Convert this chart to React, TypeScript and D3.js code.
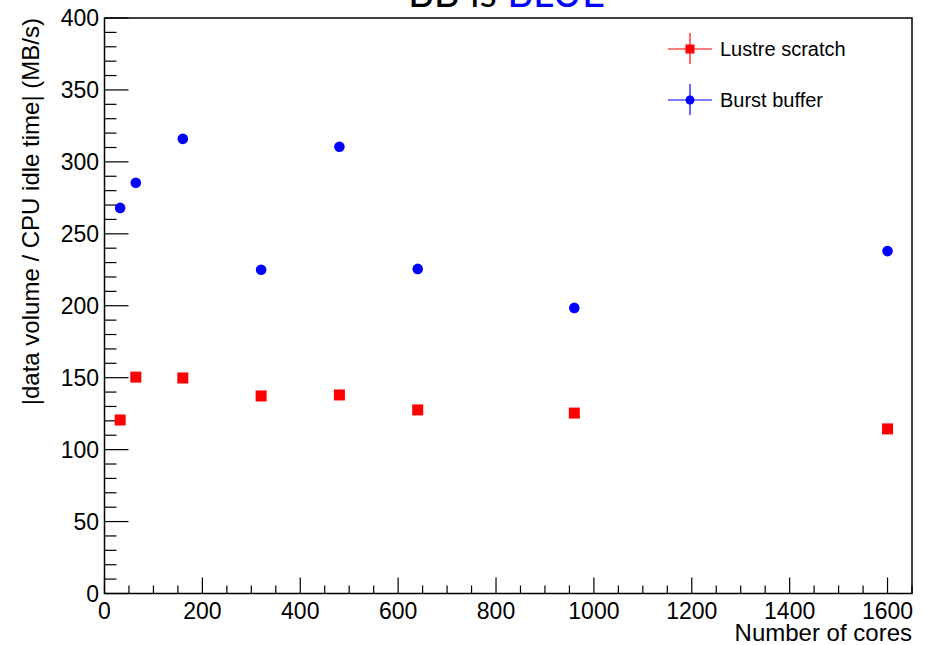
import React from "react";
import * as d3 from "d3";

const cores = [32, 64, 160, 320, 480, 640, 960, 1600];
const lustreScratch = [120.6, 150.4, 149.8, 137.3, 138.0, 127.6, 125.4, 114.4];
const burstBuffer = [268.0, 285.5, 316.0, 225.0, 310.5, 225.6, 198.5, 238.0];
const xMajorTicks = [0, 200, 400, 600, 800, 1000, 1200, 1400, 1600];
const yMajorTicks = [0, 50, 100, 150, 200, 250, 300, 350, 400];
const seriesNames = ["Lustre scratch", "Burst buffer"];

const W = 926;
const H = 645;
const LEFT = 104.5;
const RIGHT = 912;
const TOP = 18;
const BOTTOM = 593.5;
const FONT = "'Liberation Sans', Arial, Helvetica, sans-serif";

export default function App() {
  const x = d3.scaleLinear().domain([0, 1650]).range([LEFT, RIGHT]);
  const y = d3.scaleLinear().domain([0, 400]).range([BOTTOM, TOP]);
  const xMinor = d3.range(0, 1651, 50).filter((v) => v % 200 !== 0);
  const yMinor = d3.range(0, 401, 10).filter((v) => v % 50 !== 0);

  return (
    <svg width={W} height={H} style={{ position: "absolute", left: 0, top: 0, background: "#fff" }}>
      <rect x={0} y={0} width={W} height={H} fill="#fff" />
      {/* title (cut at top) */}
      <text x={408} y={7} fontFamily="Lato, 'Open Sans', sans-serif" fontSize={40} fill="#000">
        BB is <tspan fill="#0000ff">BLUE</tspan>
      </text>
      {/* frame */}
      <rect x={LEFT} y={TOP} width={RIGHT - LEFT} height={BOTTOM - TOP} fill="none" stroke="#000" strokeWidth={1.5} />
      {/* y ticks */}
      {yMajorTicks.map((v) => (
        <line key={"ym" + v} x1={LEFT} x2={LEFT + 24} y1={y(v)} y2={y(v)} stroke="#000" strokeWidth={1.2} />
      ))}
      {yMinor.map((v) => (
        <line key={"yn" + v} x1={LEFT} x2={LEFT + 12} y1={y(v)} y2={y(v)} stroke="#000" strokeWidth={1.2} />
      ))}
      {yMajorTicks.map((v) => (
        <text key={"yl" + v} x={99} y={y(v) + 8} textAnchor="end" fontFamily={FONT} fontSize={23} fill="#000">
          {v}
        </text>
      ))}
      {/* x ticks */}
      {xMajorTicks.map((v) => (
        <line key={"xm" + v} x1={x(v)} x2={x(v)} y1={BOTTOM} y2={BOTTOM - 16} stroke="#000" strokeWidth={1.2} />
      ))}
      {xMinor.map((v) => (
        <line key={"xn" + v} x1={x(v)} x2={x(v)} y1={BOTTOM} y2={BOTTOM - 8} stroke="#000" strokeWidth={1.2} />
      ))}
      {xMajorTicks.map((v) => (
        <text key={"xl" + v} x={x(v)} y={619} textAnchor="middle" fontFamily={FONT} fontSize={23} fill="#000">
          {v}
        </text>
      ))}
      {/* axis titles */}
      <text x={RIGHT} y={641} textAnchor="end" fontFamily={FONT} fontSize={24} fill="#000">
        Number of cores
      </text>
      <text
        transform={`translate(39,${TOP}) rotate(-90)`}
        textAnchor="end"
        fontFamily={FONT}
        fontSize={24}
        fill="#000"
      >
        |data volume / CPU idle time| (MB/s)
      </text>
      {/* data */}
      {cores.map((c, i) => (
        <rect key={"r" + i} x={x(c) - 5.5} y={y(lustreScratch[i]) - 5.5} width={11} height={11} fill="#ff0000" />
      ))}
      {cores.map((c, i) => (
        <circle key={"b" + i} cx={x(c)} cy={y(burstBuffer[i])} r={5.3} fill="#0000ff" />
      ))}
      {/* legend */}
      <g>
        <line x1={668} x2={712} y1={49} y2={49} stroke="#ff0000" strokeWidth={1.2} />
        <line x1={690} x2={690} y1={33} y2={64} stroke="#ff0000" strokeWidth={1.2} />
        <rect x={685.5} y={44.5} width={9} height={9} fill="#ff0000" />
        <text x={720} y={56} fontFamily={FONT} fontSize={20} fill="#000">
          {seriesNames[0]}
        </text>
        <line x1={668} x2={712} y1={100} y2={100} stroke="#0000ff" strokeWidth={1.2} />
        <line x1={690} x2={690} y1={84} y2={115} stroke="#0000ff" strokeWidth={1.2} />
        <circle cx={690} cy={100} r={4.5} fill="#0000ff" />
        <text x={720} y={107} fontFamily={FONT} fontSize={20} fill="#000">
          {seriesNames[1]}
        </text>
      </g>
    </svg>
  );
}
